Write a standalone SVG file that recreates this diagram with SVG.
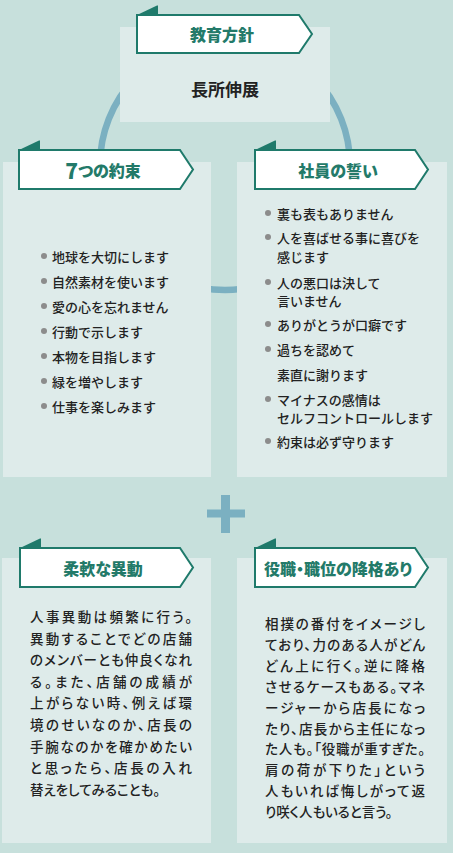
<svg xmlns="http://www.w3.org/2000/svg" width="453" height="853" viewBox="0 0 453 853">
  <style>
    .panel { fill: #deebea; }
    .banner { fill: #ffffff; stroke: #1f7a6b; stroke-width: 2; stroke-linejoin: miter; }
    .tab { fill: #1f7a6b; }
    .title { font-family: "Noto Sans CJK JP", "Noto Sans", sans-serif; font-weight: 900; font-size: 16px; fill: #237a69; text-anchor: middle; dominant-baseline: central; font-feature-settings: "palt"; }
    .main { font-family: "Noto Sans CJK JP", "Noto Sans", sans-serif; font-weight: 700; font-size: 17px; fill: #222222; text-anchor: middle; dominant-baseline: central; }
    .li { font-family: "Noto Sans CJK JP", "Noto Sans", sans-serif; font-weight: 500; font-size: 13px; fill: #222222; dominant-baseline: central; }
    .body { font-family: "Noto Sans CJK JP", "Noto Sans", sans-serif; font-weight: 500; font-size: 13.5px; fill: #222222; dominant-baseline: central; font-feature-settings: "palt"; }
    .dot { fill: #8c8c8c; }
    .ring { fill: none; stroke: #7bb0c1; stroke-width: 6.5; }
    .plus { fill: #7bb0c1; }
  </style>
  <rect x="0" y="0" width="453" height="853" fill="#c7e0dc"/>

  <g id="connectors">
    <circle class="ring" cx="225" cy="165" r="125"/>
    <rect class="plus" x="207" y="509.5" width="38" height="8"/>
    <rect class="plus" x="221" y="495" width="9" height="38"/>
  </g>

  <g id="node-policy">
    <rect class="panel" x="120" y="27" width="210" height="95"/>
    <polygon class="tab" points="137,15 157,5.5 158,5.5 158,15"/>
    <polygon class="banner" points="137,15 299,15 312,34 299,53 137,53"/>
    <text class="title" x="222" y="34">教育方針</text>
    <text class="main" x="225" y="88">長所伸展</text>
  </g>

  <g id="node-promises">
    <rect class="panel" x="3" y="162" width="208" height="315"/>
    <polygon class="tab" points="19,150 39,140.5 40,140.5 40,150"/>
    <polygon class="banner" points="19,150 180,150 193,169.5 180,189 19,189"/>
    <text class="title" x="103" y="169.5"><tspan font-size="21">7</tspan>つの約束</text>
    <g>
      <circle class="dot" cx="44" cy="256" r="3"/><text class="li" x="52" y="256">地球を大切にします</text>
      <circle class="dot" cx="44" cy="281" r="3"/><text class="li" x="52" y="281">自然素材を使います</text>
      <circle class="dot" cx="44" cy="306" r="3"/><text class="li" x="52" y="306">愛の心を忘れません</text>
      <circle class="dot" cx="44" cy="331" r="3"/><text class="li" x="52" y="331">行動で示します</text>
      <circle class="dot" cx="44" cy="356" r="3"/><text class="li" x="52" y="356">本物を目指します</text>
      <circle class="dot" cx="44" cy="381" r="3"/><text class="li" x="52" y="381">緑を増やします</text>
      <circle class="dot" cx="44" cy="406" r="3"/><text class="li" x="52" y="406">仕事を楽しみます</text>
    </g>
  </g>

  <g id="node-vows">
    <rect class="panel" x="237" y="162" width="210" height="315"/>
    <polygon class="tab" points="255,150 275,140.5 276,140.5 276,150"/>
    <polygon class="banner" points="255,150 415,150 428,169.5 415,189 255,189"/>
    <text class="title" x="338" y="169.5">社員の誓い</text>
    <g>
      <circle class="dot" cx="268" cy="213" r="3"/><text class="li" x="277" y="213">裏も表もありません</text>
      <circle class="dot" cx="268" cy="237" r="3"/><text class="li" x="277" y="237">人を喜ばせる事に喜びを</text>
      <text class="li" x="277" y="256">感じます</text>
      <circle class="dot" cx="268" cy="282" r="3"/><text class="li" x="277" y="282">人の悪口は決して</text>
      <text class="li" x="277" y="300">言いません</text>
      <circle class="dot" cx="268" cy="324" r="3"/><text class="li" x="277" y="324">ありがとうが口癖です</text>
      <circle class="dot" cx="268" cy="349" r="3"/><text class="li" x="277" y="349">過ちを認めて</text>
      <text class="li" x="277" y="374">素直に謝ります</text>
      <circle class="dot" cx="268" cy="399" r="3"/><text class="li" x="277" y="399">マイナスの感情は</text>
      <text class="li" x="277" y="417">セルフコントロールします</text>
      <circle class="dot" cx="268" cy="441" r="3"/><text class="li" x="277" y="441">約束は必ず守ります</text>
    </g>
  </g>

  <g id="node-rotation">
    <rect class="panel" x="2" y="558" width="209" height="285"/>
    <polygon class="tab" points="20,548 40,538.5 41,538.5 41,548"/>
    <polygon class="banner" points="20,548 180,548 193,567.5 180,587 20,587"/>
    <text class="title" x="103" y="567.5">柔軟な異動</text>
    <g>
      <text class="body" x="30" y="616" textLength="162" lengthAdjust="spacing">人事異動は頻繁に行う。</text>
      <text class="body" x="30" y="637.6" textLength="162" lengthAdjust="spacing">異動することでどの店舗</text>
      <text class="body" x="30" y="659.2" textLength="162" lengthAdjust="spacing">のメンバーとも仲良くなれ</text>
      <text class="body" x="30" y="680.8" textLength="162" lengthAdjust="spacing">る。また、店舗の成績が</text>
      <text class="body" x="30" y="702.4" textLength="162" lengthAdjust="spacing">上がらない時、例えば環</text>
      <text class="body" x="30" y="724" textLength="162" lengthAdjust="spacing">境のせいなのか、店長の</text>
      <text class="body" x="30" y="745.6" textLength="162" lengthAdjust="spacing">手腕なのかを確かめたい</text>
      <text class="body" x="30" y="767.2" textLength="162" lengthAdjust="spacing">と思ったら、店長の入れ</text>
      <text class="body" x="30" y="788.8">替えをしてみることも。</text>
    </g>
  </g>

  <g id="node-demotion">
    <rect class="panel" x="237" y="558" width="210" height="285"/>
    <polygon class="tab" points="255,548 275,538.5 276,538.5 276,548"/>
    <polygon class="banner" points="255,548 415,548 428,567.5 415,587 255,587"/>
    <text class="title" x="338" y="567.5">役職・職位の降格あり</text>
    <g>
      <text class="body" x="265" y="623" textLength="160" lengthAdjust="spacing">相撲の番付をイメージし</text>
      <text class="body" x="265" y="643.9" textLength="160" lengthAdjust="spacing">ており、力のある人がどん</text>
      <text class="body" x="265" y="664.8" textLength="160" lengthAdjust="spacing">どん上に行く。逆に降格</text>
      <text class="body" x="265" y="685.7" textLength="160" lengthAdjust="spacing">させるケースもある。マネ</text>
      <text class="body" x="265" y="706.6" textLength="160" lengthAdjust="spacing">ージャーから店長になっ</text>
      <text class="body" x="265" y="727.5" textLength="160" lengthAdjust="spacing">たり、店長から主任になっ</text>
      <text class="body" x="265" y="748.4" textLength="160" lengthAdjust="spacing">た人も。「役職が重すぎた。</text>
      <text class="body" x="265" y="769.3" textLength="160" lengthAdjust="spacing">肩の荷が下りた」という</text>
      <text class="body" x="265" y="790.2" textLength="160" lengthAdjust="spacing">人もいれば悔しがって返</text>
      <text class="body" x="265" y="811.1">り咲く人もいると言う。</text>
    </g>
  </g>
</svg>
